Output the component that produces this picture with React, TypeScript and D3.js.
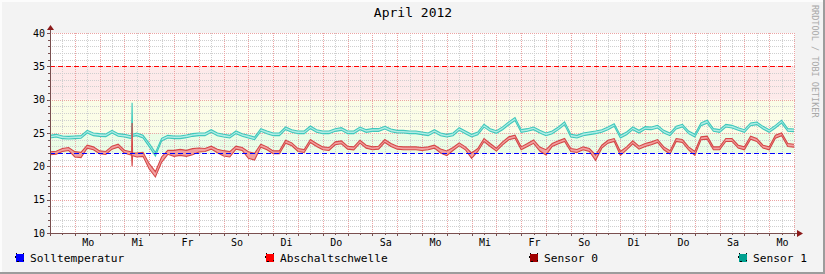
import React from 'react';
import * as d3 from 'd3';

const title = 'April 2012';
const watermark = 'RRDTOOL / TOBI OETIKER';
const dayLabels = ['Mo', 'Mi', 'Fr', 'So', 'Di', 'Do', 'Sa', 'Mo', 'Mi', 'Fr', 'So', 'Di', 'Do', 'Sa', 'Mo'];
const dayLabelDays = [1, 3, 5, 7, 9, 11, 13, 15, 17, 19, 21, 23, 25, 27, 29];
const yTicks = [10, 15, 20, 25, 30, 35, 40];
const sollTemp = 22;
const abschaltSchwelle = 35;
const bandEdges = [22, 25, 30, 35];
const legendNames = ['Solltemperatur', 'Abschaltschwelle', 'Sensor 0', 'Sensor 1'];
const samplesPerDay = 4;

const sensor1Mid = [
  24.45, 24.6, 24.35, 24.3,
  24.35, 24.4, 25.2, 24.8,
  24.7, 24.65, 25.2, 24.7,
  24.6, 24.4, 24.8, 24.45,
  23.2, 21.8, 24.0, 24.45,
  24.35, 24.35, 24.5, 24.7,
  24.8, 24.8, 25.3, 24.8,
  24.6, 24.45, 25.1, 24.7,
  24.45, 24.2, 25.45, 25.1,
  24.8, 24.8, 25.7, 25.3,
  25.1, 25.1, 25.85, 25.3,
  25.1, 25.1, 25.45, 25.6,
  25.1, 25.1, 25.7, 25.3,
  25.45, 25.45, 25.8, 25.4,
  25.2, 25.2, 25.1, 25.1,
  24.95, 24.8, 25.3, 24.8,
  24.6, 24.8, 25.6, 25.1,
  24.6, 24.95, 26.1, 25.45,
  25.15, 25.7, 26.45, 27.1,
  25.3, 25.45, 25.7, 25.2,
  24.8, 25.1, 25.7, 26.45,
  24.6, 24.45, 24.8, 24.95,
  25.1, 25.3, 25.7, 26.2,
  24.45, 24.95, 25.7, 25.2,
  25.75, 25.7, 25.95, 25.2,
  24.8, 25.8, 26.1, 25.1,
  24.6, 26.3, 26.7, 25.45,
  25.3, 26.1, 25.95, 25.6,
  25.3, 26.3, 26.45, 25.8,
  25.3, 25.95, 26.7, 25.45,
  25.4,
];
const sensor1Half = [
  0.2, 0.2, 0.2, 0.2,
  0.2, 0.2, 0.2, 0.2,
  0.2, 0.2, 0.2, 0.2,
  0.2, 0.2, 0.2, 0.2,
  0.25, 0.25, 0.2, 0.2,
  0.2, 0.2, 0.2, 0.2,
  0.2, 0.2, 0.2, 0.2,
  0.2, 0.2, 0.2, 0.2,
  0.2, 0.2, 0.2, 0.2,
  0.2, 0.2, 0.2, 0.2,
  0.2, 0.2, 0.2, 0.2,
  0.2, 0.2, 0.2, 0.2,
  0.2, 0.2, 0.2, 0.2,
  0.2, 0.2, 0.2, 0.2,
  0.2, 0.2, 0.2, 0.2,
  0.2, 0.2, 0.2, 0.2,
  0.2, 0.2, 0.2, 0.2,
  0.2, 0.2, 0.22, 0.2,
  0.2, 0.22, 0.22, 0.22,
  0.2, 0.2, 0.2, 0.2,
  0.2, 0.2, 0.2, 0.22,
  0.2, 0.2, 0.2, 0.2,
  0.2, 0.2, 0.2, 0.2,
  0.2, 0.2, 0.2, 0.2,
  0.2, 0.2, 0.2, 0.2,
  0.2, 0.2, 0.2, 0.2,
  0.2, 0.22, 0.22, 0.2,
  0.2, 0.2, 0.2, 0.2,
  0.2, 0.2, 0.2, 0.2,
  0.2, 0.2, 0.22, 0.2,
  0.2,
];
const sensor0Mid = [
  21.95, 22.05, 22.45, 22.6,
  21.8, 21.7, 22.95, 22.7,
  22.1, 22.0, 22.8, 23.1,
  22.2, 21.95, 21.7, 21.8,
  20.0, 18.8, 21.0, 22.1,
  21.95, 22.1, 21.95, 22.2,
  22.45, 22.45, 22.8, 22.3,
  21.95, 21.8, 22.8, 22.6,
  21.7, 21.45, 23.1, 22.7,
  22.1, 22.1, 23.7, 23.3,
  22.45, 22.3, 23.8, 23.2,
  22.7, 22.6, 23.45, 23.6,
  22.8, 22.7, 23.7, 22.95,
  22.7, 22.8, 23.8, 23.2,
  22.8, 22.7, 22.7, 22.7,
  22.6, 22.7, 22.95, 22.3,
  21.95, 22.6, 23.3, 22.7,
  21.6, 22.45, 23.95, 23.2,
  22.5, 23.45, 24.2, 24.45,
  22.7, 23.2, 23.7, 22.6,
  22.1, 23.2, 23.6, 23.95,
  22.45, 22.3, 22.7, 22.45,
  21.3, 22.95, 23.7, 23.95,
  21.95, 22.7, 23.6, 22.8,
  23.2, 23.45, 23.8, 22.7,
  22.1, 23.95, 23.8, 22.7,
  21.95, 24.2, 24.3, 22.7,
  22.7, 23.95, 23.95, 22.95,
  22.7, 24.3, 23.95, 22.95,
  22.7, 24.45, 24.8, 23.2,
  23.1,
];
const sensor0Half = [
  0.22, 0.22, 0.22, 0.22,
  0.4, 0.4, 0.22, 0.22,
  0.22, 0.22, 0.22, 0.22,
  0.22, 0.25, 0.3, 0.3,
  0.4, 0.4, 0.4, 0.3,
  0.45, 0.45, 0.45, 0.45,
  0.3, 0.22, 0.22, 0.25,
  0.4, 0.4, 0.22, 0.22,
  0.5, 0.5, 0.22, 0.22,
  0.22, 0.22, 0.22, 0.22,
  0.22, 0.22, 0.22, 0.22,
  0.22, 0.22, 0.22, 0.22,
  0.22, 0.22, 0.22, 0.22,
  0.22, 0.22, 0.22, 0.22,
  0.22, 0.22, 0.22, 0.22,
  0.22, 0.22, 0.22, 0.3,
  0.35, 0.22, 0.22, 0.22,
  0.4, 0.22, 0.22, 0.22,
  0.22, 0.22, 0.22, 0.22,
  0.22, 0.22, 0.25, 0.3,
  0.4, 0.22, 0.22, 0.22,
  0.22, 0.22, 0.22, 0.22,
  0.4, 0.22, 0.22, 0.22,
  0.3, 0.22, 0.22, 0.22,
  0.22, 0.22, 0.22, 0.22,
  0.25, 0.22, 0.22, 0.22,
  0.3, 0.22, 0.22, 0.22,
  0.22, 0.22, 0.22, 0.22,
  0.22, 0.22, 0.22, 0.22,
  0.22, 0.22, 0.22, 0.22,
  0.22,
];
// short spike on Wednesday morning
const spikeDays = [3.29, 3.31, 3.33];
const spikeSensor1Lo = [24.3, 24.4, 24.5];
const spikeSensor1Hi = [24.6, 29.55, 24.8];
const spikeSensor0Lo = [21.8, 20.0, 21.6];
const spikeSensor0Hi = [22.1, 26.5, 22.0];

type Pt = { t: number; lo0: number; hi0: number; lo1: number; hi1: number };

export default function App() {
  const W = 825;
  const H = 274;
  const left = 50;
  const right = 794;
  const top = 33;
  const bottom = 233;
  const x = d3.scaleLinear().domain([0, 30]).range([left, right]);
  const y = d3.scaleLinear().domain([10, 40]).range([bottom, top]);

  const pts: Pt[] = sensor0Mid.map((m, i) => ({
    t: i / samplesPerDay,
    lo0: m - sensor0Half[i],
    hi0: m + sensor0Half[i],
    lo1: sensor1Mid[i] - sensor1Half[i],
    hi1: sensor1Mid[i] + sensor1Half[i],
  }));
  spikeDays.forEach((t, i) =>
    pts.push({ t, lo0: spikeSensor0Lo[i], hi0: spikeSensor0Hi[i], lo1: spikeSensor1Lo[i], hi1: spikeSensor1Hi[i] })
  );
  pts.sort((a, b) => a.t - b.t);

  const area0 = d3.area<Pt>().x(d => x(d.t)).y0(d => y(d.lo0)).y1(d => y(d.hi0));
  const area1 = d3.area<Pt>().x(d => x(d.t)).y0(d => y(d.lo1)).y1(d => y(d.hi1));
  const lineOf = (f: (d: Pt) => number) => d3.line<Pt>().x(d => x(d.t)).y(f)(pts) || '';

  const minorX = d3.range(0, 30.001, 0.5).filter(v => v % 1 !== 0);
  const majorX = d3.range(1, 30.001, 1);
  const minorY = d3.range(10, 40.001, 1).filter(v => v % 5 !== 0);
  const majorY = yTicks;
  const px = (v: number) => Math.round(v) + 0.5;

  const bandColors = ['#ebfde6', '#fbfde7', '#fdeaea'];
  const font = "'DejaVu Sans Mono', monospace";
  const legendX = [15, 265, 529, 738];
  const legendColors = ['#0000ff', '#ff0000', '#a00000', '#00a090'];

  return (
    <svg width={W} height={H} style={{ position: 'absolute', left: 0, top: 0 }} xmlns="http://www.w3.org/2000/svg">
      <rect x={0} y={0} width={W} height={H} fill="#f3f3f3" />
      <rect x={0} y={0} width={W} height={2} fill="#fcfcfc" />
      <rect x={0} y={0} width={2} height={H} fill="#fcfcfc" />
      <rect x={0} y={H - 2} width={W} height={2} fill="#9c9c9c" />
      <rect x={W - 2} y={0} width={2} height={H} fill="#9c9c9c" />

      <rect x={left} y={top} width={right - left + 1} height={bottom - top} fill="#ffffff" />
      {bandEdges.slice(0, -1).map((b, i) => (
        <rect key={'band' + i} x={left} y={y(bandEdges[i + 1])} width={right - left}
          height={y(b) - y(bandEdges[i + 1])} fill={bandColors[i]} />
      ))}

      <g shapeRendering="crispEdges" strokeWidth={1} strokeDasharray="1,1">
        {minorX.map(v => (
          <line key={'mx' + v} x1={px(x(v))} x2={px(x(v))} y1={top} y2={bottom} stroke="#cfcfcf" />
        ))}
        {minorY.map(v => (
          <line key={'my' + v} x1={left} x2={right + 1} y1={px(y(v))} y2={px(y(v))} stroke="#cfcfcf" />
        ))}
        {majorX.map(v => (
          <line key={'Mx' + v} x1={px(x(v))} x2={px(x(v))} y1={top} y2={bottom} stroke="#eba3a3" />
        ))}
        {majorY.map(v => (
          <line key={'My' + v} x1={left} x2={right + 1} y1={px(y(v))} y2={px(y(v))} stroke="#eba3a3" />
        ))}
      </g>

      <path d={area1(pts) || ''} fill="#b2ece4" />
      <path d={lineOf(d => y(d.lo1))} fill="none" stroke="#3fc8bc" strokeWidth={1.1} />
      <path d={lineOf(d => y(d.hi1))} fill="none" stroke="#3fc8bc" strokeWidth={1.1} />
      <path d={area0(pts) || ''} fill="#f2a0a0" />
      <path d={lineOf(d => y(d.lo0))} fill="none" stroke="#d44848" strokeWidth={1.1} />
      <path d={lineOf(d => y(d.hi0))} fill="none" stroke="#d44848" strokeWidth={1.1} />

      <line x1={left} x2={right} y1={px(y(sollTemp))} y2={px(y(sollTemp))} stroke="#0000ff" strokeWidth={1}
        strokeDasharray="5,3" shapeRendering="crispEdges" />
      <line x1={left} x2={right} y1={px(y(abschaltSchwelle))} y2={px(y(abschaltSchwelle))} stroke="#ff0000"
        strokeWidth={1} strokeDasharray="5,3" shapeRendering="crispEdges" />

      <g shapeRendering="crispEdges" stroke="#7a5050" strokeWidth={1}>
        <line x1={left - 3} x2={right + 4} y1={bottom + 0.5} y2={bottom + 0.5} />
        <line x1={left + 0.5} x2={left + 0.5} y1={bottom + 3} y2={top - 4} />
        {majorX.map(v => (
          <line key={'tx' + v} x1={px(x(v))} x2={px(x(v))} y1={bottom} y2={bottom + 3} />
        ))}
        {minorX.map(v => (
          <line key={'tmx' + v} x1={px(x(v))} x2={px(x(v))} y1={bottom} y2={bottom + 2} />
        ))}
        {majorY.map(v => (
          <line key={'ty' + v} x1={left - 3} x2={left} y1={px(y(v))} y2={px(y(v))} />
        ))}
        {minorY.map(v => (
          <line key={'tmy' + v} x1={left - 2} x2={left} y1={px(y(v))} y2={px(y(v))} />
        ))}
      </g>
      <path d={`M${right + 3},${bottom - 3} L${right + 9},${bottom + 0.5} L${right + 3},${bottom + 4} Z`} fill="#8b1a1a" />
      <path d={`M${left - 3},${top - 3} L${left + 0.5},${top - 8} L${left + 4},${top - 3} Z`} fill="#8b1a1a" />

      <g fontFamily={font} fontSize={10} fill="#000">
        {yTicks.map(v => (
          <text key={'yl' + v} x={left - 5} y={y(v) + 3.5} textAnchor="end">{v}</text>
        ))}
        {dayLabels.map((l, i) => (
          <text key={'dl' + i} x={x(dayLabelDays[i] + 0.5) + 1} y={246} textAnchor="middle">{l}</text>
        ))}
      </g>

      <text x={413} y={17} textAnchor="middle" fontFamily={font} fontSize={13} fill="#000">{title}</text>
      <text transform="translate(812,5) rotate(90)" fontFamily={font} fontSize={8.5} fill="#a8a8a8">{watermark}</text>

      <g fontFamily={font} fontSize={11.2} fill="#000">
        {legendNames.map((n, i) => (
          <g key={'lg' + i}>
            <rect x={legendX[i] + 0.5} y={253.5} width={8} height={8} fill={legendColors[i]}
              stroke="#000" strokeWidth={1} strokeDasharray="1.5,5.5" shapeRendering="crispEdges" />
            <text x={legendX[i] + 15} y={262}>{n}</text>
          </g>
        ))}
      </g>
    </svg>
  );
}
